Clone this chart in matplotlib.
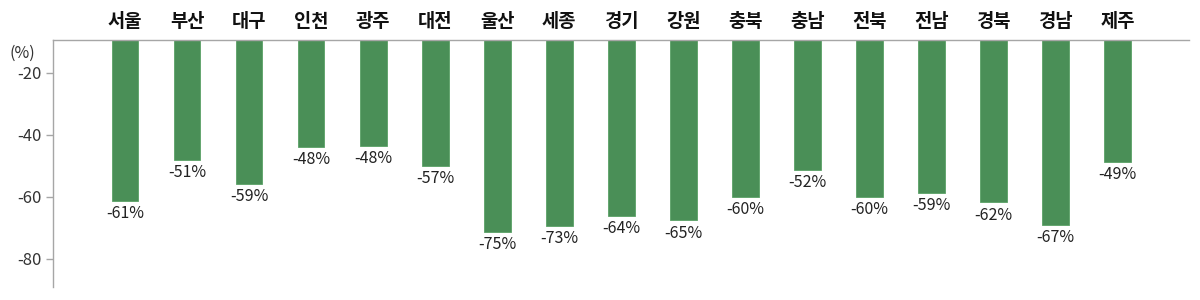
import matplotlib
matplotlib.use("Agg")
import matplotlib.pyplot as plt

plt.rcParams['font.family'] = ['Noto Sans CJK KR', 'DejaVu Sans']

regions = ['서울', '부산', '대구', '인천', '광주', '대전', '울산', '세종', '경기',
           '강원', '충북', '충남', '전북', '전남', '경북', '경남', '제주']
# bar lengths
bar_values = [-61.3, -48.1, -55.8, -43.8, -43.6, -49.9, -71.4, -69.4, -66.1,
              -67.6, -60.0, -51.3, -60.0, -58.7, -61.8, -69.0, -48.6]
# printed labels
value_labels = ['-61%', '-51%', '-59%', '-48%', '-48%', '-57%', '-75%', '-73%', '-64%',
                '-65%', '-60%', '-52%', '-60%', '-59%', '-62%', '-67%', '-49%']
yticks = [-20, -40, -60, -80]

bar_color = '#4a8f57'
spine_color = '#a6a6a6'

fig = plt.figure(figsize=(12, 3), dpi=100)
ax = fig.add_axes([0.0439, 0.0443, 0.9469, 0.824])

x = list(range(len(regions)))
ax.bar(x, bar_values, width=0.43, color=bar_color, edgecolor='#5aa266', linewidth=0.6)

for xi, v, lab in zip(x, bar_values, value_labels):
    ax.annotate(lab, (xi, v), xytext=(0, -3), textcoords='offset points',
                ha='center', va='top', fontsize=11.5, color='#222222')

ax.set_xlim(-1.166, 17.15)
ax.set_ylim(-89, -9.2)

ax.xaxis.tick_top()
ax.set_xticks(x)
ax.set_xticklabels(regions, fontsize=13.5, fontweight='bold', color='#111111')
ax.tick_params(axis='x', length=0, pad=6)

ax.set_yticks(yticks)
ax.set_yticklabels([str(t) for t in yticks], fontsize=12, color='#333333')
ax.tick_params(axis='y', length=5, width=1, color=spine_color, pad=3)

for side in ['bottom', 'right']:
    ax.spines[side].set_visible(False)
for side in ['left', 'top']:
    ax.spines[side].set_color(spine_color)
    ax.spines[side].set_linewidth(1)

fig.text(22 / 1200, 1 - 53 / 300, '(%)', ha='center', va='center', fontsize=11.5, color='#333333')

fig.savefig('out.png', dpi=100)
